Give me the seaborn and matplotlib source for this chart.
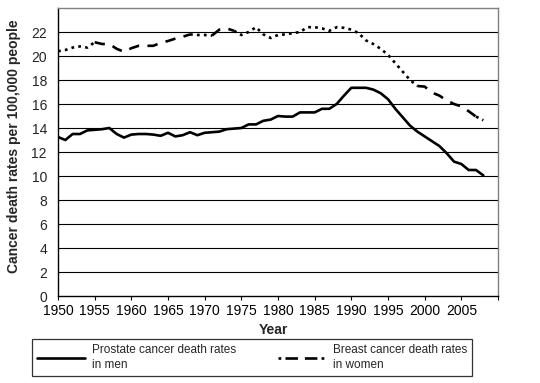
import numpy as np
import pandas as pd
import matplotlib
matplotlib.use('Agg')
import matplotlib.pyplot as plt
from matplotlib.lines import Line2D
import seaborn as sns

# death rates per 100,000 people
years = list(range(1950, 2009))
prostate = [13.25, 13.0, 13.5, 13.5, 13.8, 13.85, 13.9, 14.0, 13.5, 13.2,
            13.45, 13.5, 13.5, 13.45, 13.35, 13.6, 13.3, 13.4, 13.65, 13.4,
            13.6, 13.65, 13.7, 13.9, 13.95, 14.0, 14.3, 14.3, 14.6, 14.7,
            15.0, 14.95, 14.95, 15.3, 15.3, 15.3, 15.6, 15.6, 16.0, 16.7,
            17.35, 17.35, 17.35, 17.2, 16.9, 16.4, 15.6, 14.9, 14.2, 13.7,
            13.3, 12.9, 12.5, 11.9, 11.2, 11.0, 10.5, 10.5, 10.05]
breast = [20.4, 20.5, 20.7, 20.8, 20.7, 21.15, 21.0, 21.0, 20.6, 20.35,
          20.65, 20.85, 20.85, 20.85, 21.1, 21.25, 21.45, 21.6, 21.8, 21.75,
          21.75, 21.7, 22.2, 22.3, 22.1, 21.75, 22.0, 22.4, 21.8, 21.5,
          21.75, 21.8, 21.9, 22.0, 22.4, 22.4, 22.3, 22.1, 22.4, 22.35,
          22.2, 21.9, 21.3, 21.0, 20.6, 20.1, 19.4, 18.7, 18.0, 17.5,
          17.45, 16.95, 16.7, 16.3, 16.0, 15.8, 15.4, 14.95, 14.65]
labels = ['Prostate cancer death rates\nin men',
          'Breast cancer death rates\nin women']
xticks = list(range(1950, 2011, 5))
xtick_labels = [str(y) for y in range(1950, 2006, 5)] + ['']
yticks = list(range(0, 23, 2))

# the breast line shows long dashes in these stretches, dots elsewhere (style only)
dashed_spans = [(1955, 1968), (1971, 1974), (1999, 2007)]
DOTS = (0, (2, 3))
DASHES = (0, (7.5, 6))

sns.set_style('white')
plt.rcParams['font.family'] = ['Liberation Sans', 'DejaVu Sans']
plt.rcParams['lines.scale_dashes'] = False

fig = plt.figure(figsize=(5.4, 3.83), dpi=100)
ax = fig.add_axes([58/540, 1-296/383, 440/540, 288/383])

for v in yticks[1:]:
    ax.axhline(v, color='black', lw=0.8, zorder=1)

sns.lineplot(x=years, y=prostate, color='black', lw=1.9, ax=ax, zorder=3)

df = pd.DataFrame({'year': years, 'rate': breast})

def is_dashed(y):
    return any(a <= y < b for a, b in dashed_spans)

runs = []
for y in years[:-1]:
    st = is_dashed(y)
    if runs and runs[-1][2] == st:
        runs[-1][1] = y + 1
    else:
        runs.append([y, y + 1, st])
for a, b, st in runs:
    part = df[(df.year >= a) & (df.year <= b)]
    sns.lineplot(data=part, x='year', y='rate', color='black', lw=1.9, ax=ax, zorder=3,
                 linestyle=DASHES if st else DOTS)

ax.set_xlim(1950, 2010)
ax.set_ylim(0, 24)
ax.set_xticks(xticks)
ax.set_xticklabels(xtick_labels, fontsize=10)
ax.set_yticks(yticks)
ax.set_yticklabels([str(v) for v in yticks], fontsize=10)
ax.tick_params(axis='x', length=3, width=0.8, direction='out', pad=3, bottom=True, colors='black')
ax.tick_params(axis='y', length=0, pad=8)
ax.set_xlabel('Year', fontsize=10, fontweight='bold')
ax.set_ylabel('Cancer death rates per 100,000 people', fontsize=10, fontweight='bold')
ax.xaxis.set_label_coords(0.49, -0.095)
ax.yaxis.set_label_coords(-0.083, 0.52)

for s in ['left', 'bottom']:
    ax.spines[s].set_color('black')
    ax.spines[s].set_linewidth(1.0)
for s in ['top', 'right']:
    ax.spines[s].set_color('#808080')
    ax.spines[s].set_linewidth(1.0)

h = [Line2D([], [], color='black', lw=1.9),
     Line2D([], [], color='black', lw=1.9, linestyle=(0, (2, 3, 9, 5, 9, 3, 2, 60)))]
leg = fig.legend(h, labels, loc='upper left', bbox_to_anchor=(32/540, 1-339/383), ncol=2,
                 frameon=True, fancybox=False, edgecolor='black', fontsize=8.5,
                 handlelength=4.0, columnspacing=3.6, borderpad=0.45, handletextpad=0.6,
                 borderaxespad=0)
leg.get_frame().set_linewidth(0.9)
for t in leg.get_texts():
    t.set_linespacing(1.25)

fig.savefig('out.png', dpi=100)
